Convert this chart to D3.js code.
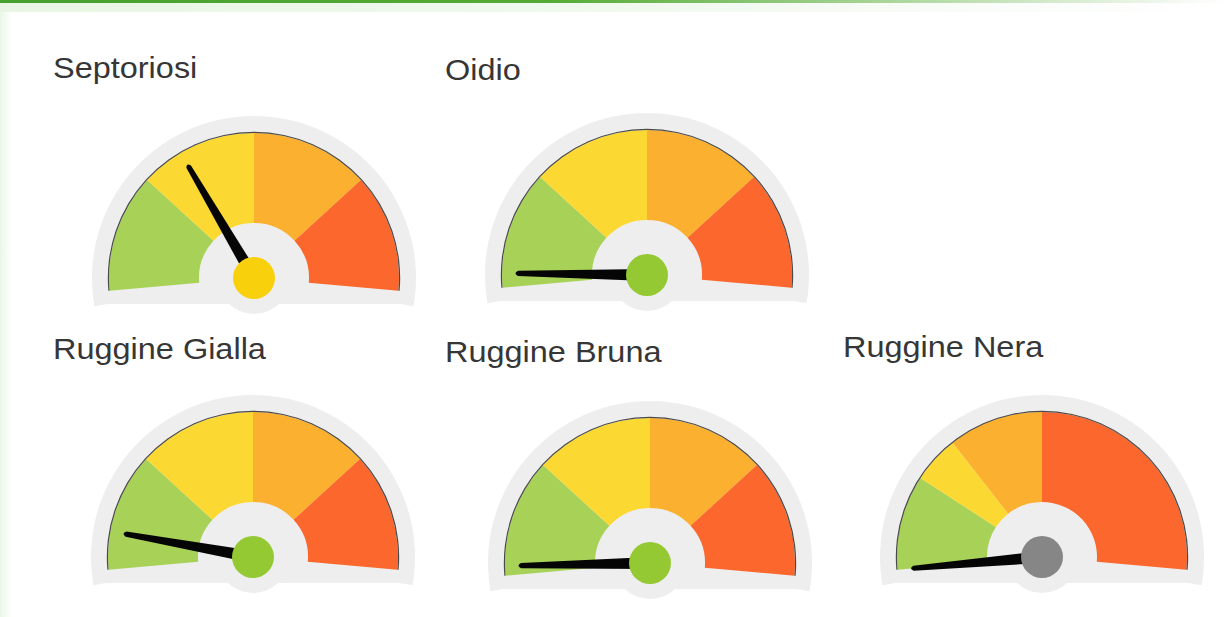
<!DOCTYPE html>
<html>
<head>
<meta charset="utf-8">
<script src="https://cdnjs.cloudflare.com/ajax/libs/d3/7.8.5/d3.min.js"></script>
<style>
    body { margin: 0; background: #ffffff; }
    svg { display: block; }
</style>
</head>
<body>
<div id="svg-container"></div>
<script>

var svgWidth = 1225,
    svgHeight = 617;

// ---- data ----
var gaugeTitles = ["Septoriosi", "Oidio", "Ruggine Gialla", "Ruggine Bruna", "Ruggine Nera"];
var gaugeValues = [34, 3, 8, 2, 0];
// band limits of each gauge: green, yellow, orange, red
var bandLimits = [
    [0, 25, 50, 75, 100],
    [0, 25, 50, 75, 100],
    [0, 25, 50, 75, 100],
    [0, 25, 50, 75, 100],
    [0, 20, 30, 50, 100]
];
var pivotColors = ["#f8d10c", "#94c933", "#94c933", "#94c933", "#868686"];

// ---- layout ----
var panelPos = [ // pivot center of each gauge + title position
    {x: 254, y: 278, tx: 53, ty: 78},
    {x: 647, y: 275, tx: 445, ty: 80},
    {x: 253, y: 557, tx: 53, ty: 359},
    {x: 650, y: 563, tx: 445, ty: 362},
    {x: 1042, y: 557, tx: 843, ty: 357}
];
var bandColors = ["#a8d158", "#fcd932", "#fbb02f", "#fb672c"];
var outerR = 145,
    innerR = 55,
    pivotR = 21,
    needleLen = 132;

var svg = d3.select("#svg-container").append("svg")
    .attr("width", svgWidth)
    .attr("height", svgHeight);

// header green line + faint glow
var defs = svg.append("defs");
var topGrad = defs.append("linearGradient").attr("id", "topGrad");
topGrad.append("stop").attr("offset", "0%").attr("stop-color", "#45a12c");
topGrad.append("stop").attr("offset", "45%").attr("stop-color", "#55ab35");
topGrad.append("stop").attr("offset", "100%").attr("stop-color", "#ffffff");
var glowGrad = defs.append("linearGradient").attr("id", "glowGrad");
glowGrad.append("stop").attr("offset", "0%").attr("stop-color", "#e8f6e3");
glowGrad.append("stop").attr("offset", "60%").attr("stop-color", "#f3faf1");
glowGrad.append("stop").attr("offset", "100%").attr("stop-color", "#ffffff");
var sideGrad = defs.append("linearGradient").attr("id", "sideGrad");
sideGrad.append("stop").attr("offset", "0%").attr("stop-color", "#e9f7e6");
sideGrad.append("stop").attr("offset", "100%").attr("stop-color", "#ffffff");

svg.append("rect").attr("x", 0).attr("y", 0).attr("width", 12).attr("height", svgHeight)
    .attr("fill", "url(#sideGrad)");
svg.append("rect").attr("x", 0).attr("y", 2).attr("width", svgWidth).attr("height", 10)
    .attr("fill", "url(#glowGrad)");
svg.append("rect").attr("x", 0).attr("y", 0).attr("width", svgWidth).attr("height", 3)
    .attr("fill", "url(#topGrad)");

// value -> angle (the dial spans a bit more than half a circle)
var angle = d3.scaleLinear()
    .domain([0, 100])
    .range([-95 * Math.PI / 180, 95 * Math.PI / 180])
    .clamp(true);

var bandArc = d3.arc().innerRadius(innerR).outerRadius(outerR);

gaugeTitles.forEach(function(title, i) {
    var p = panelPos[i];

    svg.append("text") // title
        .attr("transform", "translate(" + p.tx + "," + p.ty + ") scale(1.12,1)")
        .attr("font-family", "'Liberation Sans', Arial, sans-serif")
        .attr("font-size", 29)
        .attr("fill", "#363636")
        .text(title);

    var g = svg.append("g")
        .attr("transform", "translate(" + p.x + "," + p.y + ")");

    // light gray backing shape
    var back = g.append("g").attr("fill", "#eeeeee");
    back.append("path")
        .attr("d", d3.arc().innerRadius(0).outerRadius(outerR + 17)
            .startAngle(-100 * Math.PI / 180).endAngle(100 * Math.PI / 180)());
    back.append("rect")
        .attr("x", -(outerR + 14)).attr("y", -20)
        .attr("width", 2 * (outerR + 14)).attr("height", 46)
        .attr("rx", 14);
    back.append("circle").attr("r", 36);

    // colored bands
    var lim = bandLimits[i];
    var bands = d3.range(lim.length - 1).map(function(k) {
        return {from: lim[k], to: lim[k + 1], color: bandColors[k]};
    });
    g.selectAll(".band")
        .data(bands)
        .enter().append("path")
        .attr("class", "band")
        .attr("d", function(d) {
            return bandArc({startAngle: angle(d.from), endAngle: angle(d.to)});
        })
        .attr("fill", function(d) { return d.color; });

    // thin outline on the outer edge
    g.append("path")
        .attr("d", d3.arc().innerRadius(outerR).outerRadius(outerR + 1.2)
            .startAngle(angle(0)).endAngle(angle(100))())
        .attr("fill", "#4a4a4a");

    // needle: thick at the hub, narrow rounded tip
    var a = angle(gaugeValues[i]) * 180 / Math.PI;
    g.append("path")
        .attr("d", "M-6,0 L-2.6,-" + (needleLen - 3) +
            " Q0,-" + (needleLen + 2) + " 2.6,-" + (needleLen - 3) + " L6,0 Z")
        .attr("transform", "rotate(" + a + ")")
        .attr("fill", "#050505");

    g.append("circle") // pivot
        .attr("r", pivotR)
        .attr("fill", pivotColors[i]);
});

</script>
</body>
</html>
